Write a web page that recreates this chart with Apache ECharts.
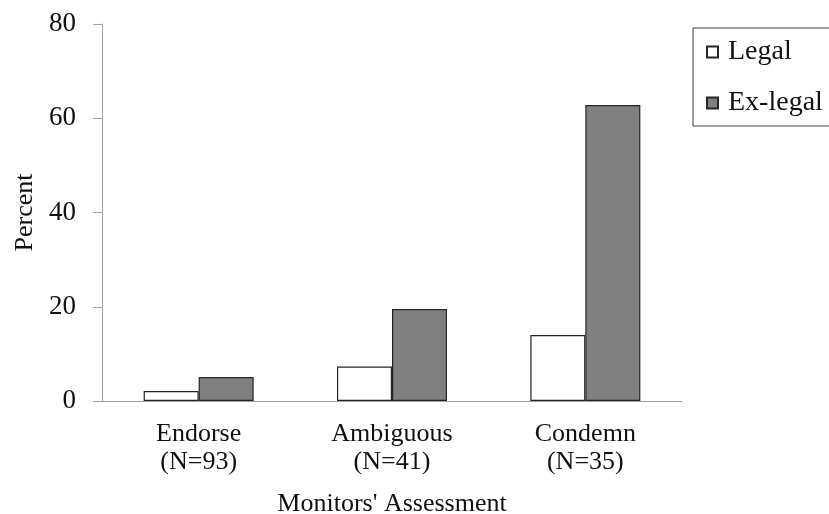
<!DOCTYPE html>
<html>
<head>
<meta charset="utf-8">
<script src="https://cdn.jsdelivr.net/npm/echarts@6/dist/echarts.min.js"></script>
<style>
  html, body { margin: 0; padding: 0; background: #fff; }
  #main { width: 829px; height: 514px; }
</style>
</head>
<body>
<div id="main"></div>
<script>
// values (percent)
var categories = ['Endorse\n(N=93)', 'Ambiguous\n(N=41)', 'Condemn\n(N=35)'];
var legalValues = [2.1, 7.3, 14.0];
var exLegalValues = [5.1, 19.5, 62.8];
var seriesNames = ['Legal', 'Ex-legal'];
var yTicks = { min: 0, max: 80, interval: 20 };

var serif = "'Liberation Serif', 'Times New Roman', serif";
var chartDom = document.getElementById('main');
var myChart = echarts.init(chartDom);
var option;

option = {
    animation: false,
    backgroundColor: '#fff',
    textStyle: { fontFamily: serif, color: '#111' },
    grid: { left: 102, right: 147, top: 24, bottom: 113, outerBoundsMode: 'none', containLabel: false },
    legend: {
        orient: 'vertical',
        left: 693,
        top: 28,
        padding: [9, 40, 8, 13],
        itemGap: 21,
        itemWidth: 11,
        itemHeight: 11,
        borderColor: '#404040',
        borderWidth: 1,
        icon: 'rect',
        textStyle: { fontFamily: serif, fontSize: 28, lineHeight: 30, color: '#111', padding: [0, 0, 0, 5] },
        data: seriesNames
    },
    xAxis: {
        type: 'category',
        data: categories,
        name: "Monitors' Assessment",
        nameLocation: 'middle',
        nameGap: 90,
        nameTextStyle: { fontFamily: serif, fontSize: 26, color: '#111' },
        axisLine: { lineStyle: { color: '#a0a0a0', width: 1 } },
        axisTick: { length: 10, lineStyle: { color: '#a0a0a0' } },
        axisLabel: { fontFamily: serif, fontSize: 26, lineHeight: 28, margin: 19, color: '#111' }
    },
    yAxis: {
        type: 'value',
        min: yTicks.min,
        max: yTicks.max,
        interval: yTicks.interval,
        name: 'Percent',
        nameLocation: 'middle',
        nameGap: 63,
        nameRotate: 90,
        nameTextStyle: { fontFamily: serif, fontSize: 26, color: '#111' },
        axisLine: { show: true, lineStyle: { color: '#a0a0a0', width: 1 } },
        axisTick: { show: true, length: 9, lineStyle: { color: '#a0a0a0' } },
        splitLine: { show: false },
        axisLabel: { fontFamily: serif, fontSize: 27, margin: 26, color: '#111' }
    },
    series: [
        {
            name: seriesNames[0],
            type: 'bar',
            data: legalValues,
            barWidth: 55,
            barGap: '0%',
            itemStyle: { color: '#ffffff', borderColor: '#262626', borderWidth: 1.2 }
        },
        {
            name: seriesNames[1],
            type: 'bar',
            data: exLegalValues,
            barWidth: 55,
            barGap: '0%',
            itemStyle: { color: '#808080', borderColor: '#262626', borderWidth: 1.2 }
        }
    ]
};

option && myChart.setOption(option);
</script>
</body>
</html>
